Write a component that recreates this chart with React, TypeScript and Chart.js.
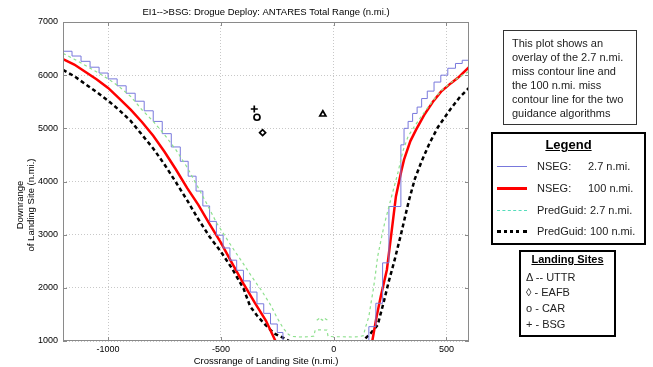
import React, { useEffect, useRef } from 'react';
import { Chart, registerables } from 'chart.js';

Chart.register(...registerables);

const FONT = '"Liberation Sans", Arial, Helvetica, sans-serif';

const chartTitle = 'EI1-->BSG: Drogue Deploy: ANTARES Total Range (n.mi.)';
const xAxisTitle = 'Crossrange of Landing Site (n.mi.)';
const yAxisTitle = ['Downrange', 'of Landing Site (n.mi.)'];
const xTicks = [-1000, -500, 0, 500];
const yTicks = [1000, 2000, 3000, 4000, 5000, 6000, 7000];

// NSEG 2.7 n.mi. (blue, stair-stepped)
const nseg27Left: [number, number][] = [
  [-1200, 6530], [-1160, 6450], [-1120, 6360], [-1080, 6260], [-1040, 6150], [-1000, 6040],
  [-960, 5930], [-920, 5800], [-880, 5660], [-840, 5510], [-800, 5330], [-760, 5130],
  [-720, 4900], [-680, 4650], [-645, 4380], [-610, 4100], [-580, 3820], [-550, 3540],
  [-520, 3250], [-490, 2990], [-460, 2750], [-430, 2520], [-400, 2330], [-370, 2130],
  [-340, 1920], [-310, 1700], [-280, 1520], [-250, 1320], [-225, 1160], [-200, 950], [-185, 800],
];
const nseg27Right: [number, number][] = [
  [128, 800], [156, 1270], [187, 1710], [217, 2470], [245, 3530], [298, 4690], [312, 5000],
  [330, 5130], [350, 5280], [370, 5400], [390, 5560], [415, 5700], [445, 5870], [475, 6000],
  [506, 6130], [540, 6220], [570, 6280], [600, 6330],
];

// NSEG 100 n.mi. (red)
const nseg100Left: [number, number][] = [
  [-1200, 6300], [-1150, 6200], [-1100, 6060], [-1050, 5920], [-1000, 5760], [-950, 5560],
  [-900, 5350], [-850, 5120], [-800, 4860], [-750, 4560], [-700, 4230], [-650, 3880],
  [-600, 3560], [-550, 3200], [-500, 2850], [-450, 2460], [-400, 2080], [-350, 1720],
  [-300, 1380], [-258, 1000], [-240, 850],
];
const nseg100Right: [number, number][] = [
  [165, 850], [172, 1020], [190, 1450], [209, 1840], [236, 2340], [254, 2960], [276, 3720],
  [300, 4200], [312, 4410], [340, 4760], [365, 4970], [401, 5250], [440, 5500], [476, 5690],
  [520, 5850], [551, 5950], [600, 6150],
];

// PredGuid 2.7 n.mi. (green dashed, joined across the bottom)
const pred27: [number, number][] = [
  [-1200, 6410], [-1150, 6300], [-1100, 6180], [-1050, 6060], [-1000, 5930], [-950, 5780],
  [-900, 5600], [-850, 5350], [-800, 5130], [-750, 4880], [-700, 4600], [-650, 4270],
  [-600, 3880], [-560, 3560], [-520, 3230], [-480, 2960], [-440, 2700], [-400, 2450],
  [-360, 2190], [-320, 1950], [-280, 1680], [-250, 1430], [-225, 1250], [-200, 1120],
  [-180, 1085], [-150, 1075], [-110, 1080], [-88, 1090], [-82, 1205], [-60, 1210],
  [-30, 1205], [-25, 1090], [0, 1080], [40, 1080], [80, 1075], [110, 1080], [132, 1100],
  [140, 1240], [156, 1460], [165, 1700], [175, 1950], [185, 2250], [195, 2590], [210, 2900],
  [225, 3200], [245, 3530], [265, 3850], [284, 4150], [306, 4560], [330, 4850], [360, 5050],
  [400, 5290], [440, 5520], [480, 5720], [520, 5860], [560, 5970], [600, 6070],
];
const pred27Islet: [number, number][] = [
  [-75, 1390], [-62, 1430], [-50, 1390], [-38, 1420], [-28, 1395],
];

// PredGuid 100 n.mi. (black dashed)
const pred100Left: [number, number][] = [
  [-1200, 6100], [-1150, 5980], [-1100, 5830], [-1050, 5680], [-1000, 5520], [-950, 5340],
  [-900, 5140], [-850, 4880], [-800, 4620], [-750, 4320], [-700, 3990], [-650, 3650],
  [-600, 3290], [-550, 2960], [-500, 2680], [-450, 2360], [-400, 1990], [-370, 1650],
  [-340, 1480], [-310, 1336], [-266, 1148], [-221, 1054], [-190, 980], [-170, 900],
];
const pred100Right: [number, number][] = [
  [120, 950], [134, 1020], [165, 1150], [195, 1300], [220, 1700], [245, 2130], [270, 2520],
  [298, 3000], [334, 3650], [360, 4050], [390, 4380], [425, 4720], [462, 5020], [521, 5380],
  [560, 5590], [600, 5760],
];

// Landing sites
const siteUTTR: [number, number][] = [[-48, 5265]];
const siteEAFB: [number, number][] = [[-315, 4919]];
const siteCAR: [number, number][] = [[-340, 5208]];
const siteBSG: [number, number][] = [[-352, 5364]];

const textBoxLines = [
  'This plot shows an',
  'overlay of the 2.7 n.mi.',
  'miss contour line and',
  'the 100 n.mi. miss',
  'contour line for the two',
  'guidance algorithms',
];
const legendRows = [
  { name: 'NSEG:', value: '2.7 n.mi.' },
  { name: 'NSEG:', value: '100 n.mi.' },
  { name: 'PredGuid:', value: '2.7 n.mi.' },
  { name: 'PredGuid:', value: '100 n.mi.' },
];
const siteRows = ['\u0394 -- UTTR', '\u25CA - EAFB', 'o - CAR', '+ - BSG'];

const BLUE = '#7878dc';
const RED = '#ff0000';
const GREEN = '#8ee08e';
const BLACK = '#000000';

const pts = (a: [number, number][]) => a.map(([x, y]) => ({ x, y }));

const framePlugin = {
  id: 'frameBox',
  afterDatasetsDraw(chart: any) {
    const { ctx, chartArea: a, scales } = chart;
    ctx.save();
    ctx.strokeStyle = '#8a8a8a';
    ctx.lineWidth = 1;
    ctx.strokeRect(a.left + 0.5, a.top + 0.5, a.right - a.left - 1, a.bottom - a.top - 1);
    ctx.beginPath();
    for (const v of xTicks) {
      const px = Math.round(scales.x.getPixelForValue(v)) + 0.5;
      ctx.moveTo(px, a.top); ctx.lineTo(px, a.top + 4);
      ctx.moveTo(px, a.bottom); ctx.lineTo(px, a.bottom - 4);
    }
    for (const v of yTicks) {
      const py = Math.round(scales.y.getPixelForValue(v)) + 0.5;
      ctx.moveTo(a.left, py); ctx.lineTo(a.left + 4, py);
      ctx.moveTo(a.right, py); ctx.lineTo(a.right - 4, py);
    }
    ctx.stroke();
    ctx.restore();
  },
  afterDraw(chart: any) {
    const { ctx } = chart;
    ctx.save();
    ctx.fillStyle = '#000';
    ctx.font = `9.5px ${FONT}`;
    ctx.textAlign = 'center';
    ctx.textBaseline = 'middle';
    const xs = [20, 31];
    yAxisTitle.forEach((t, i) => {
      ctx.save();
      ctx.translate(xs[i], 205);
      ctx.rotate(-Math.PI / 2);
      ctx.fillText(t, 0, 0);
      ctx.restore();
    });
    ctx.restore();
  },
};

export default function App() {
  const ref = useRef<HTMLCanvasElement>(null);
  useEffect(() => {
    document.body.style.margin = '0';
    const canvas = ref.current;
    if (!canvas) return;
    const line = (data: [number, number][], color: string, width: number, extra: any = {}) => ({
      data: pts(data),
      showLine: true,
      borderColor: color,
      backgroundColor: color,
      borderWidth: width,
      pointRadius: 0,
      pointHoverRadius: 0,
      fill: false,
      tension: 0,
      clip: 0,
      ...extra,
    });
    const marker = (data: [number, number][], style: string, r: number) => ({
      data: pts(data),
      showLine: false,
      pointStyle: style,
      pointRadius: r,
      pointBorderColor: '#000',
      pointBackgroundColor: 'rgba(0,0,0,0)',
      pointBorderWidth: 1.7,
      borderColor: '#000',
      backgroundColor: 'rgba(0,0,0,0)',
    });
    const chart = new Chart(canvas, {
      type: 'scatter',
      data: {
        datasets: [
          line(pred27, GREEN, 1.2, { borderDash: [3, 3] }),
          line(pred27Islet, GREEN, 1.2, { borderDash: [3, 2] }),
          line(nseg27Left, BLUE, 1, { stepped: 'after' }),
          line(nseg27Right, BLUE, 1, { stepped: 'before' }),
          line(nseg100Left, RED, 2.5),
          line(nseg100Right, RED, 2.5),
          line(pred100Left, BLACK, 2.5, { borderDash: [4, 3] }),
          line(pred100Right, BLACK, 2.5, { borderDash: [4, 3] }),
          marker(siteUTTR, 'triangle', 3.5),
          marker(siteEAFB, 'rectRot', 3),
          marker(siteCAR, 'circle', 3),
          marker(siteBSG, 'cross', 3.5),
        ] as any,
      },
      options: {
        responsive: false,
        animation: false,
        devicePixelRatio: 1,
        layout: { padding: { left: 0, top: 0, right: 184, bottom: 0 } },
        plugins: {
          legend: { display: false },
          tooltip: { enabled: false },
          title: {
            display: true,
            text: chartTitle,
            color: '#000',
            fullSize: false,
            font: { family: FONT, size: 9.5, weight: 'normal', lineHeight: 1.2 },
            padding: { top: 6.5, bottom: 4.1 },
          },
        },
        scales: {
          x: {
            type: 'linear',
            min: -1200,
            max: 600,
            afterBuildTicks: (s: any) => { s.ticks = xTicks.map((v) => ({ value: v })); },
            afterFit: (s: any) => { s.height = 26; },
            ticks: { color: '#000', font: { family: FONT, size: 9 }, padding: 3, maxRotation: 0, callback: (v: any) => String(v) },
            grid: { color: '#c8c8c8', drawTicks: false, lineWidth: 1 },
            border: { display: false, dash: [1, 2] },
            title: { display: true, text: xAxisTitle, color: '#000', font: { family: FONT, size: 9.5, lineHeight: 1.2 }, padding: { top: 0, bottom: 0 } },
          },
          y: {
            type: 'linear',
            min: 1000,
            max: 7000,
            afterBuildTicks: (s: any) => { s.ticks = yTicks.map((v) => ({ value: v })); },
            afterFit: (s: any) => { s.width = 63; },
            ticks: { color: '#000', font: { family: FONT, size: 9 }, padding: 5, callback: (v: any) => String(v) },
            grid: { color: '#c8c8c8', drawTicks: false, lineWidth: 1 },
            border: { display: false, dash: [1, 2] },
            title: { display: false },
          },
        },
      } as any,
      plugins: [framePlugin],
    });
    return () => chart.destroy();
  }, []);

  const abs = (o: React.CSSProperties): React.CSSProperties => ({ position: 'absolute', ...o });
  const rowTop = [166, 188, 210, 231];
  const siteTop = [277, 292, 308, 324];

  return (
    <div style={{ position: 'relative', width: 653, height: 367, background: '#fff', fontFamily: FONT, color: '#222', overflow: 'hidden' }}>
      <canvas ref={ref} width={653} height={367} style={{ position: 'absolute', left: 0, top: 0, width: 653, height: 367 }} />

      <div style={abs({ left: 503, top: 30, width: 132, height: 93, border: '1px solid #333', background: '#fff' })} />
      {textBoxLines.map((t, i) => (
        <div key={t} style={abs({ left: 512, top: 43 + i * 14 - 7, fontSize: 11, lineHeight: '14px', whiteSpace: 'nowrap' })}>{t}</div>
      ))}

      <div style={abs({ left: 491, top: 132, width: 151, height: 109, border: '2px solid #000', background: '#fff' })} />
      <div style={abs({ left: 491, top: 137, width: 155, textAlign: 'center', fontSize: 13, fontWeight: 'bold', textDecoration: 'underline', lineHeight: '16px', color: '#000' })}>Legend</div>
      {legendRows.map((r, i) => {
        const y = rowTop[i];
        const sample: React.CSSProperties =
          i === 0 ? { borderTop: `1px solid ${BLUE}`, top: y }
          : i === 1 ? { borderTop: `3px solid ${RED}`, top: y - 1 }
          : i === 2 ? { borderTop: '1px dashed #55ddbb', top: y }
          : { borderTop: '3px dotted #000', top: y - 1 };
        return (
          <React.Fragment key={i}>
            <div style={abs({ left: 497, width: 30, height: 0, ...sample })} />
            <div style={abs({ left: 537, top: y - 7, fontSize: 11, lineHeight: '14px', whiteSpace: 'nowrap' })}>{r.name}</div>
            <div style={abs({ left: i < 2 ? 588 : 590, top: y - 7, fontSize: 11, lineHeight: '14px', whiteSpace: 'nowrap' })}>{r.value}</div>
          </React.Fragment>
        );
      })}

      <div style={abs({ left: 519, top: 250, width: 93, height: 83, border: '2px solid #000', background: '#fff' })} />
      <div style={abs({ left: 519, top: 252, width: 97, textAlign: 'center', fontSize: 11, fontWeight: 'bold', textDecoration: 'underline', lineHeight: '14px', color: '#000' })}>Landing Sites</div>
      {siteRows.map((t, i) => (
        <div key={t} style={abs({ left: 526, top: siteTop[i] - 7, fontSize: 11, lineHeight: '14px', whiteSpace: 'nowrap' })}>{t}</div>
      ))}
    </div>
  );
}
